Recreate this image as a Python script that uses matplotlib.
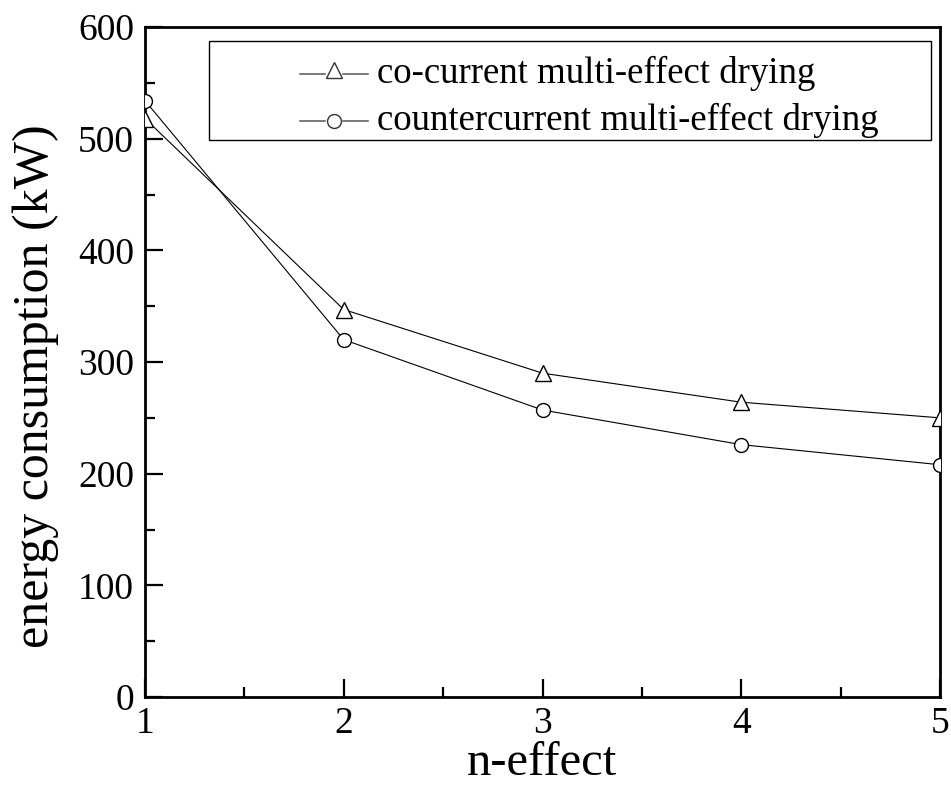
import matplotlib
matplotlib.use("Agg")
import matplotlib.pyplot as plt
from matplotlib.ticker import MultipleLocator
from matplotlib.patches import Rectangle

n_effect = [1, 2, 3, 4, 5]
cocurrent = [518, 347, 290, 264, 250]
countercurrent = [534, 320, 257, 226, 208]
labels = ["co-current multi-effect drying", "countercurrent multi-effect drying"]
markers = ['^', 'o']
msizes = [12, 10]

plt.rcParams['font.family'] = ['Liberation Serif', 'DejaVu Serif']

W, H = 951, 785
fig = plt.figure(figsize=(W / 100, H / 100), dpi=100)
ax = fig.add_axes([145 / W, 1 - 697 / H, 795 / W, 670 / H])

for ys, m, ms in zip([cocurrent, countercurrent], markers, msizes):
    ax.plot(n_effect, ys, color='black', lw=0.8, marker=m, ms=ms,
            mfc='white', mec='black', mew=1.0, zorder=3)

ax.set_xlim(1, 5)
ax.set_ylim(0, 600)
ax.xaxis.set_major_locator(MultipleLocator(1))
ax.xaxis.set_minor_locator(MultipleLocator(0.5))
ax.yaxis.set_major_locator(MultipleLocator(100))
ax.yaxis.set_minor_locator(MultipleLocator(50))
ax.tick_params(which='both', direction='in', width=1.6, labelsize=27, top=False, right=False)
ax.tick_params(which='major', length=13)
ax.tick_params(axis='y', which='major', pad=8)
ax.tick_params(axis='x', which='major', pad=7)
ax.tick_params(which='minor', length=7)
for s in ax.spines.values():
    s.set_linewidth(2.0)

fig.text(542 / W, 1 - 775 / H, 'n-effect', fontsize=35, ha='center', va='baseline')
fig.text(36 / W, 1 - 386 / H, 'energy consumption (kW)', fontsize=36,
         rotation=90, ha='center', va='center')

# legend box (axes coordinates)
def ax_x(px):
    return (px - 145) / 795

def ax_y(py):
    return (697 - py) / 670

ax.add_patch(Rectangle((ax_x(209), ax_y(140)), ax_x(931) - ax_x(209), ax_y(41) - ax_y(140),
                       transform=ax.transAxes, fill=False, edgecolor='black', lw=1.0, zorder=4))
row_y = [74, 121]
for ry, m, ms, lab in zip(row_y, markers, msizes, labels):
    yy = ax_y(ry)
    ax.plot([ax_x(300), ax_x(325)], [yy, yy], transform=ax.transAxes, color='#555555', lw=1.1, zorder=4)
    ax.plot([ax_x(343), ax_x(368)], [yy, yy], transform=ax.transAxes, color='#555555', lw=1.1, zorder=4)
    my = yy + (ax_y(ry - 4) - yy if m == '^' else 0)
    ax.plot([ax_x(334)], [my], transform=ax.transAxes, marker=m, ms=ms, mfc='white',
            mec='#333333', mew=1.0, ls='none', zorder=4)
    ax.text(ax_x(377), yy - (ax_y(ry) - ax_y(ry + 9)), lab, transform=ax.transAxes,
            fontsize=26.5, ha='left', va='baseline', zorder=4)

fig.savefig('out.png', dpi=100)
